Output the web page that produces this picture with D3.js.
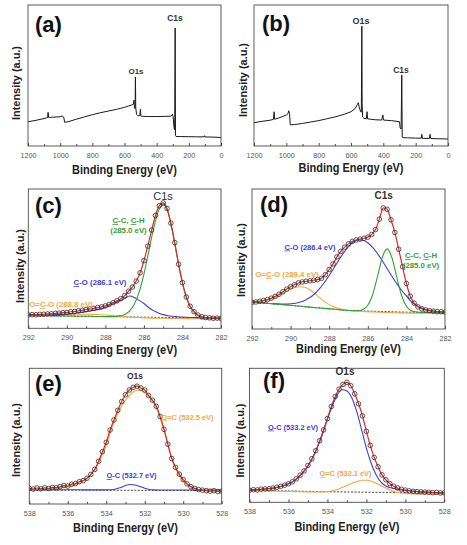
<!DOCTYPE html>
<html><head><meta charset="utf-8">
<script src="https://cdn.jsdelivr.net/npm/d3@7"></script>
<style>body{margin:0;background:#fff}svg{display:block}text{font-family:"Liberation Sans",Arial,sans-serif}</style>
</head><body><svg id="c" width="467" height="545"></svg>
<script>
// ---------- DATA ----------
const surveyA = [[1200,17.2],[1150,18.2],[1100,19.5],[1078,20.2],[1075,23.9],[1072,20.3],[1050,20.4],[1020,20.6],[1000,20.8],[985,21.2],[978,20.5],[972,16.8],[950,17.2],[900,19.0],[850,20.6],[800,22.2],[750,23.6],[700,24.8],[650,26.0],[600,27.4],[575,28.4],[555,29.1],[545,29.6],[541,32.5],[538,27],[534,26.5],[532,48.9],[530,27],[525,22.5],[515,21.3],[505,21.5],[501,26],[498,21.2],[480,21.0],[450,20.9],[400,20.9],[350,21.0],[310,21.2],[302,22.5],[298,21],[292,13],[289,11.5],[287.5,20],[285,83.7],[283,7.5],[280,6.8],[250,6.7],[200,6.6],[150,6.5],[105,6.5],[102,7.3],[99,6.4],[50,6.3],[0,6.0]];
const surveyB = [[1200,16.5],[1150,17.5],[1100,18.3],[1080,18.9],[1076,24.3],[1072,19],[1050,19.8],[1020,21],[1000,22],[990,22.8],[985,25],[980,23],[976,15],[950,15.2],[900,16],[850,17],[800,18],[750,19.3],[700,20.6],[650,22.2],[600,24.3],[575,26.5],[560,29.5],[555,30.7],[548,27],[540,24.3],[536,24],[533,85],[531,30],[528,20.5],[520,19.6],[505,19.3],[501,24.3],[497,19.2],[480,19],[450,18.6],[410,18.4],[403,22],[399,18.4],[350,18],[300,17.2],[296,12.8],[290,12],[286,50.4],[283,6.2],[280,5.9],[250,5.8],[200,5.6],[165,5.5],[162,8.3],[158,5.4],[115,5.4],[111,8.3],[107,5.3],[50,5.1],[0,5.0]];

const surveyTicks = [1200,1000,800,600,400,200,0];
const surveyMinor = [1100,900,700,500,300,100];
const c1sTicks = [292,290,288,286,284,282];
const c1sMinor = [291,289,287,285,283];
const o1sTicks = [538,536,534,532,530,528];
const o1sMinor = [537,535,533,531,529];

const energyC1sData = [292.0,291.8,291.6,291.4,291.2,291.0,290.8,290.6,290.4,290.2,290.0,289.8,289.6,289.4,289.2,289.0,288.8,288.6,288.4,288.2,288.0,287.8,287.6,287.4,287.2,287.0,286.8,286.6,286.4,286.2,286.0,285.8,285.6,285.4,285.2,285.0,284.8,284.6,284.4,284.2,284.0,283.8,283.6,283.4,283.2,283.0,282.8,282.6,282.4,282.2,282.0];
const energyC1sFit = [292,291.75,291.5,291.25,291,290.75,290.5,290.25,290,289.75,289.5,289.25,289,288.75,288.5,288.25,288,287.75,287.5,287.25,287,286.75,286.5,286.25,286,285.75,285.5,285.25,285,284.75,284.5,284.25,284,283.75,283.5,283.25,283,282.75,282.5,282.25,282];
const energyO1sData = [538.0,537.8,537.6,537.4,537.2,537.0,536.8,536.6,536.4,536.2,536.0,535.8,535.6,535.4,535.2,535.0,534.8,534.6,534.4,534.2,534.0,533.8,533.6,533.4,533.2,533.0,532.8,532.6,532.4,532.2,532.0,531.8,531.6,531.4,531.2,531.0,530.8,530.6,530.4,530.2,530.0,529.8,529.6,529.4,529.2,529.0,528.8,528.6,528.4,528.2,528.0];
const energyO1sFit = [538,537.75,537.5,537.25,537,536.75,536.5,536.25,536,535.75,535.5,535.25,535,534.75,534.5,534.25,534,533.75,533.5,533.25,533,532.75,532.5,532.25,532,531.75,531.5,531.25,531,530.75,530.5,530.25,530,529.75,529.5,529.25,529,528.75,528.5,528.25,528];

// (c)
const cData = [9.6,9.8,9.7,10.0,10.1,10.3,10.4,10.7,10.9,11.2,11.4,11.9,12.1,12.6,12.9,13.5,13.9,14.3,14.9,15.4,16.1,17.2,18.4,19.7,21.3,23.4,26.6,29.6,33.9,39.8,48.5,59.0,70.5,81.0,88.0,90.0,86.0,75.5,61.5,46.0,32.8,22.5,15.8,11.9,9.5,8.3,7.7,7.5,7.2,7.3,7.1];
const cGreen = [9.2,9.2,9.1,9.1,9.0,9.0,8.9,8.9,8.8,8.8,8.7,8.7,8.6,8.6,8.5,8.5,8.4,8.4,8.5,8.9,9.9,12.4,17.3,26.0,38.9,55.1,71.5,84.1,88.8,83.0,67.9,49.3,32.4,20.3,13.1,9.7,8.1,7.6,7.3,7.3,7.2];
const cBlue = [9.4,9.45,9.5,9.55,9.6,9.7,9.85,10.05,10.3,10.65,11.0,11.45,12.0,12.55,13.2,13.95,15.0,16.65,18.1,19.75,21.4,23.15,22.1,20.05,17.8,14.95,12.7,11.05,9.8,9.05,8.6,8.25,8.0,7.85,7.7,7.6,7.5,7.45,7.35,7.25,7.2];
const cOrange = [9.4,9.45,9.45,9.55,9.6,9.7,9.8,9.85,9.95,10.0,10.05,10.05,10.05,10.0,9.9,9.75,9.5,9.25,9.0,8.75,8.4,8.1,7.9,7.7,7.5,7.4,7.3,7.25,7.2,7.15,7.1,7.05,7.0,6.95,6.9,6.85,6.8,6.75,6.7,6.65,6.6];
const cBase = [[292,9.2],[282,7.2]];
// (d)
const dData = [19.0,19.3,19.8,20.4,21.0,22.0,23.3,24.8,26.6,28.5,30.2,31.6,32.9,33.6,34.1,34.4,34.8,35.3,36.2,38.8,42.5,46.5,51.5,55.5,58.5,60.8,62.6,63.6,64.2,64.8,65.6,67.5,71.0,78.5,86.5,85.5,78.0,69.0,57.0,44.5,32.5,23.5,18.5,15.8,14.4,13.6,13.1,12.7,12.4,12.3,12.1];
const dGreen = [19.3,19.0,18.7,18.4,18.1,17.8,17.5,17.2,16.9,16.6,16.3,16.0,15.6,15.3,15.0,14.7,14.4,14.1,13.8,13.5,13.2,13.1,13.2,14.0,17.0,24.5,37.4,51.1,57.2,50.9,37.0,23.9,16.2,13.1,12.2,11.9,11.9,11.9,11.9,11.8,11.8];
const dBlue = [19.3,19.0,18.7,18.4,18.2,18.0,17.8,17.8,18.0,18.4,19.3,20.6,22.5,25.2,28.8,33.2,38.2,43.7,49.3,54.5,58.9,62.1,63.6,63.4,61.6,58.3,53.9,48.8,43.2,37.7,32.4,27.7,23.7,19.5,17.0,15.1,13.9,13.1,12.6,12.2,12.0];
const dOrange = [19.6,19.7,19.9,20.5,21.5,22.9,24.7,26.6,28.4,29.7,30.2,29.8,28.0,25.4,22.4,19.7,17.4,15.8,14.6,13.9,13.4,12.9,12.7,12.5,12.3,12.2,12.0,11.9,11.8,11.7,11.6,11.5,11.4,11.35,11.3,11.3,11.25,11.2,11.2,11.15,11.1];
const dBase = [[292,19.3],[287,13.2],[284,12.0],[282,11.8]];
// (e)
const eData = [11.5,11.0,11.8,11.2,11.9,11.4,12.2,12.0,12.8,13.6,13.2,14.6,15.0,16.4,17.2,19.0,21.8,25.5,31.5,38.5,45.5,54.5,62.0,69.0,75.5,80.5,84.0,86.0,86.8,85.5,84.0,80.0,76.5,72.0,64.5,55.0,44.0,33.5,27.0,22.0,18.0,14.8,12.8,11.5,10.6,10.2,9.8,9.5,9.8,9.2,9.4];
const eOrange = [10.8,10.8,10.9,11.0,11.1,11.3,11.7,12.3,13.0,13.8,15.0,16.8,19.0,22.5,27.5,35.0,43.5,54.5,63.5,71.0,76.5,80.5,83.5,83.8,82.0,78.5,73.5,65.5,55.0,42.0,30.0,22.0,17.0,13.8,11.8,10.8,10.2,9.9,9.7,9.6,9.5];
const eBlue = [10.6,10.6,10.6,10.6,10.6,10.5,10.5,10.5,10.5,10.5,10.5,10.4,10.4,10.4,10.4,10.4,10.4,10.5,11.0,12.2,13.6,14.4,14.0,12.9,11.6,10.7,10.4,10.3,10.3,10.3,10.3,10.3,10.3,10.3,10.3,10.2,10.2,10.2,10.2,10.2,10.2];
const eBase = [[538,10.3],[528,9.9]];
// (f)
const fData = [9.0,9.4,9.2,9.8,10.0,10.1,10.6,11.2,11.9,12.8,13.8,15.3,17.5,20.2,23.4,27.5,32.5,38.5,46.0,54.0,62.5,71.5,79.0,84.5,88.0,89.5,87.0,81.0,73.5,64.5,53.0,42.5,33.5,26.5,20.5,16.8,14.0,12.0,10.7,9.7,9.1,8.5,8.2,7.9,7.8,7.6,7.5,7.2,7.4,7.0,7.1];
const fBlue = [9.0,9.3,9.5,9.8,10.1,10.6,11.4,12.4,13.6,15.6,18.5,22.3,27.0,33.5,41.5,51.0,62.0,72.0,80.0,84.0,83.0,78.0,68.0,54.5,40.5,29.0,20.5,15.0,12.2,10.8,10.0,9.4,9.0,8.6,8.2,7.9,7.7,7.5,7.3,7.2,7.1];
const fOrange = [9.3,9.1,8.9,8.7,8.5,8.4,8.3,8.2,8.1,8.0,7.9,7.8,7.75,7.7,7.65,7.7,8.0,8.6,9.6,11.0,12.6,14.2,15.5,16.4,16.5,15.7,14.3,12.5,10.6,8.9,7.6,7.0,6.6,6.4,6.3,6.3,6.3,6.3,6.3,6.3,6.3];
const fBase = [[538,9.0],[534,7.9],[528,6.8]];

// label texts (segments: [text, underlined])
const txtCC = [["C",1],["-C, ",0],["C",1],["-H",0]];
const txt285 = [["(285.0 eV)",0]];
const txtCO_c = [["C",1],["-O (286.1 eV)",0]];
const txtOCO_c = [["O=",0],["C",1],["-O (288.8 eV)",0]];
const txtCO_d = [["C",1],["-O (286.4 eV)",0]];
const txtOCO_d = [["O=",0],["C",1],["-O (289.4 eV)",0]];
const txtOC_e1 = [["O",1],["=C (532.5 eV)",0]];
const txtOC_e2 = [["O",1],["-C (532.7 eV)",0]];
const txtOC_f1 = [["O",1],["-C (533.2 eV)",0]];
const txtOC_f2 = [["O",1],["=C (532.1 eV)",0]];

// ---------- DRAW ----------
const COL = {green:"#33a233", blue:"#3d3ddb", orange:"#f6a640", red:"#e22828", data:"#2e2e2e"};
const svg = d3.select("#c");
const zip = (xs, ys) => xs.map((v,i)=>[v, ys[i]]);
let clipId = 0;

function panel(p){
  const x = d3.scaleLinear().domain(p.xDomain).range([p.x0, p.x1]);
  const y = d3.scaleLinear().domain([0,100]).range([p.y1, p.y0]);
  const g = svg.append("g");
  const id = "clip" + (clipId++);
  svg.append("clipPath").attr("id", id).append("rect")
    .attr("x", p.x0).attr("y", p.y0).attr("width", p.x1-p.x0).attr("height", p.y1-p.y0);
  const plot = g.append("g").attr("clip-path", `url(#${id})`);
  const line = d3.line().x(d=>x(d[0])).y(d=>y(d[1]));
  const smooth = d3.line().x(d=>x(d[0])).y(d=>y(d[1])).curve(d3.curveMonotoneX);

  if (p.survey) {
    plot.append("path").attr("d", line(p.survey)).attr("fill","none")
      .attr("stroke","#1a1a1a").attr("stroke-width",1).attr("stroke-linejoin","round");
  } else {
    plot.append("path").attr("d", line(p.base)).attr("fill","none").attr("stroke","#333")
      .attr("stroke-width",0.9).attr("stroke-dasharray","2,1.5");
    p.comps.forEach(c=>{
      plot.append("path").attr("d", smooth(zip(p.fitE, c.v))).attr("fill","none")
        .attr("stroke", c.col).attr("stroke-width",1.1);
    });
    const dp = zip(p.dataE, p.data);
    plot.append("path").attr("d", smooth(dp)).attr("fill","none").attr("stroke",COL.red).attr("stroke-width",1.2);
    plot.selectAll("circle.pt").data(dp).join("circle").attr("class","pt")
      .attr("cx", d=>x(d[0])).attr("cy", d=>y(d[1])).attr("r",2.3)
      .attr("fill","none").attr("stroke",COL.data).attr("stroke-width",0.8);
  }
  // frame
  g.append("rect").attr("x",p.x0).attr("y",p.y0).attr("width",p.x1-p.x0).attr("height",p.y1-p.y0)
    .attr("fill","none").attr("stroke","#4a4a4a").attr("stroke-width",0.9);
  // axes
  const ga = g.append("g").attr("transform",`translate(0,${p.y1})`)
    .call(d3.axisBottom(x).tickValues(p.ticks).tickSizeInner(-3).tickSizeOuter(0).tickFormat(d3.format("d")));
  ga.select(".domain").remove();
  ga.attr("font-family",null).attr("font-size",null);
  ga.selectAll("line").attr("stroke","#4a4a4a");
  ga.selectAll("text").attr("y", p.tickY - p.y1).attr("dy", null)
    .attr("font-size", 7.2).attr("fill","#555");
  const gm = g.append("g").attr("transform",`translate(0,${p.y1})`)
    .call(d3.axisBottom(x).tickValues(p.minor).tickSizeInner(-2).tickSizeOuter(0).tickFormat(""));
  gm.select(".domain").remove();
  gm.selectAll("line").attr("stroke","#4a4a4a");
  // titles
  g.append("text").attr("x",(p.x0+p.x1)/2).attr("y",p.titleY).attr("text-anchor","middle")
    .attr("font-size",12.5).attr("font-weight","bold").attr("fill","#222")
    .attr("textLength",105).attr("lengthAdjust","spacingAndGlyphs").text("Binding Energy (eV)");
  g.append("text").attr("transform",`translate(${p.ylabX},${p.ylabY}) rotate(-90)`).attr("text-anchor","middle")
    .attr("font-size",11).attr("font-weight","bold").attr("fill","#222")
    .attr("textLength",74).attr("lengthAdjust","spacingAndGlyphs").text("Intensity (a.u.)");
  g.append("text").attr("x",p.tagX).attr("y",p.tagY).attr("font-size",22).attr("font-weight","bold")
    .attr("fill","#111").text(p.tag);
  // peak labels
  p.labels.forEach(L=>{
    const t = g.append("text").attr("x",L.x).attr("y",L.y).attr("text-anchor","middle")
      .attr("font-size",L.fs).attr("font-weight",L.fw||"bold").attr("fill",L.col);
    if (typeof L.t === "string") t.text(L.t);
    else L.t.forEach(s=>{
      const ts = t.append("tspan").text(s[0]);
      if (s[1]) ts.style("text-decoration","underline");
    });
  });
}

panel({x0:28,x1:221,y0:5,y1:146,xDomain:[1200,0],survey:surveyA,ticks:surveyTicks,minor:surveyMinor,
  tickY:158,titleY:174,ylabX:20,ylabY:83,tag:"(a)",tagX:35,tagY:32,
  labels:[{t:"C1s",x:175,y:21,fs:8.5,col:"#333"},{t:"O1s",x:136,y:74,fs:8,col:"#333"}]});
panel({x0:254,x1:448,y0:5,y1:146,xDomain:[1200,0],survey:surveyB,ticks:surveyTicks,minor:surveyMinor,
  tickY:158,titleY:172,ylabX:247,ylabY:80,tag:"(b)",tagX:262,tagY:31,
  labels:[{t:"O1s",x:361,y:24,fs:9,col:"#333"},{t:"C1s",x:401,y:73,fs:8.5,col:"#333"}]});
panel({x0:28.3,x1:221,y0:189,y1:328.3,xDomain:[292,282],dataE:energyC1sData,data:cData,fitE:energyC1sFit,
  comps:[{v:cOrange,col:COL.orange},{v:cBlue,col:COL.blue},{v:cGreen,col:COL.green}],base:cBase,
  ticks:c1sTicks,minor:c1sMinor,tickY:340.5,titleY:354,ylabX:23.5,ylabY:266,tag:"(c)",tagX:35,tagY:213,
  labels:[{t:"C1s",x:163,y:199.5,fs:11,fw:"normal",col:"#333"},
    {t:txtCC,x:128.5,y:223,fs:7.8,col:COL.green},{t:txt285,x:128.5,y:233,fs:7.8,col:COL.green},
    {t:txtCO_c,x:100,y:285,fs:7.8,col:COL.blue},{t:txtOCO_c,x:61,y:307,fs:7.8,col:COL.orange}]});
panel({x0:252,x1:445,y0:189,y1:329,xDomain:[292,282],dataE:energyC1sData,data:dData,fitE:energyC1sFit,
  comps:[{v:dOrange,col:COL.orange},{v:dBlue,col:COL.blue},{v:dGreen,col:COL.green}],base:dBase,
  ticks:c1sTicks,minor:c1sMinor,tickY:340.5,titleY:352.5,ylabX:245,ylabY:260,tag:"(d)",tagX:260,tagY:212,
  labels:[{t:"C1s",x:383.7,y:199,fs:10,col:"#333"},
    {t:txtCO_d,x:310,y:249.5,fs:7.5,col:COL.blue},{t:txtOCO_d,x:287,y:277,fs:7.8,col:COL.orange},
    {t:txtCC,x:421,y:258,fs:7.8,col:COL.green},{t:txt285,x:421,y:267.5,fs:7.8,col:COL.green}]});
panel({x0:29.3,x1:221.7,y0:368.3,y1:504,xDomain:[538,528],dataE:energyO1sData,data:eData,fitE:energyO1sFit,
  comps:[{v:eBlue,col:COL.blue},{v:eOrange,col:COL.orange}],base:eBase,
  ticks:o1sTicks,minor:o1sMinor,tickY:516,titleY:532,ylabX:20,ylabY:440,tag:"(e)",tagX:35,tagY:391,
  labels:[{t:"O1s",x:135,y:378.5,fs:8.5,col:"#333"},
    {t:txtOC_e1,x:187.5,y:419.5,fs:7.4,col:COL.orange},{t:txtOC_e2,x:131.5,y:478,fs:7.4,col:COL.blue}]});
panel({x0:249.5,x1:444.3,y0:368.3,y1:502.3,xDomain:[538,528],dataE:energyO1sData,data:fData,fitE:energyO1sFit,
  comps:[{v:fOrange,col:COL.orange},{v:fBlue,col:COL.blue}],base:fBase,
  ticks:o1sTicks,minor:o1sMinor,tickY:514.5,titleY:530.5,ylabX:243.5,ylabY:440.5,tag:"(f)",tagX:263,tagY:388,
  labels:[{t:"O1s",x:345,y:375,fs:10,col:"#333"},
    {t:txtOC_f1,x:293,y:429.5,fs:7.4,col:COL.blue},{t:txtOC_f2,x:345.5,y:476,fs:7.4,col:COL.orange}]});
</script></body></html>
